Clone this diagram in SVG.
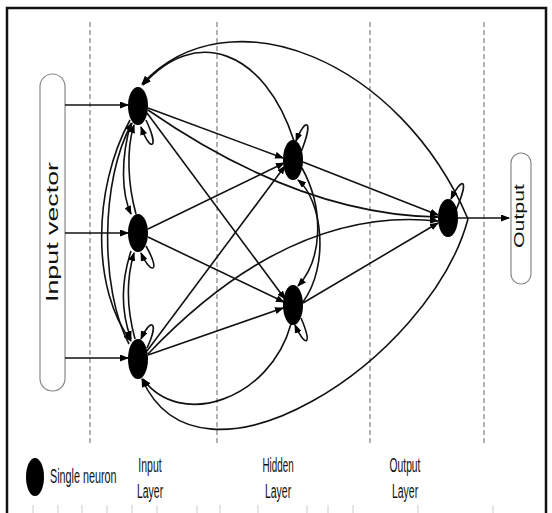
<svg xmlns="http://www.w3.org/2000/svg" width="552" height="513" viewBox="0 0 552 513">
<style>
.frame{fill:none;stroke:#111;stroke-width:2.5}
.dash{stroke:#666;stroke-width:1;stroke-dasharray:5,3}
.pill{fill:#fff;stroke:#888;stroke-width:1.2}
.neuron{fill:#000}
.c{fill:none;stroke:#111;stroke-width:1.6;marker-end:url(#ah)}
.lbl{font-family:"Liberation Sans",Arial,sans-serif;fill:#111}
.tick{stroke:#ccc;stroke-width:1}
</style>
<defs>
<marker id="ah" markerWidth="9" markerHeight="7" refX="8" refY="3.5" orient="auto" markerUnits="userSpaceOnUse">
<path d="M0,0 L9,3.5 L0,7 z" fill="#000"/>
</marker>
</defs>
<rect width="552" height="513" fill="#fff"/>
<path class="frame" d="M7,513 V8 H546 V513"/>
<g id="ticks">
<line class="tick" x1="33" y1="505" x2="33" y2="513"/><line class="tick" x1="58" y1="505" x2="58" y2="513"/><line class="tick" x1="82" y1="505" x2="82" y2="513"/><line class="tick" x1="107" y1="505" x2="107" y2="513"/><line class="tick" x1="132" y1="505" x2="132" y2="513"/><line class="tick" x1="157" y1="505" x2="157" y2="513"/><line class="tick" x1="197" y1="505" x2="197" y2="513"/><line class="tick" x1="220" y1="505" x2="220" y2="513"/><line class="tick" x1="258" y1="505" x2="258" y2="513"/><line class="tick" x1="307" y1="505" x2="307" y2="513"/><line class="tick" x1="328" y1="505" x2="328" y2="513"/><line class="tick" x1="353" y1="505" x2="353" y2="513"/><line class="tick" x1="418" y1="505" x2="418" y2="513"/><line class="tick" x1="493" y1="505" x2="493" y2="513"/>
</g>
<g id="dividers">
<line class="dash" x1="90" y1="22" x2="90" y2="445"/>
<line class="dash" x1="217" y1="22" x2="217" y2="445"/>
<line class="dash" x1="370" y1="22" x2="370" y2="445"/>
<line class="dash" x1="484" y1="22" x2="484" y2="445"/>
</g>
<g id="input-vector">
<rect class="pill" x="40" y="74" width="25" height="317" rx="12.5"/>
<text class="lbl" transform="translate(58,232) rotate(-90)" text-anchor="middle" font-size="17" textLength="140" lengthAdjust="spacingAndGlyphs">Input vector</text>
</g>
<g id="output-box">
<rect class="pill" x="511" y="153" width="20" height="131" rx="10"/>
<text class="lbl" transform="translate(524,216) rotate(-90)" text-anchor="middle" font-size="14" textLength="64" lengthAdjust="spacingAndGlyphs">Output</text>
</g>
<g id="connectors">
<path class="c" d="M65,105 L128,105"/>
<path class="c" d="M65,233 L128,233"/>
<path class="c" d="M65,358 L128,358"/>
<path class="c" d="M148,108 L283,158"/>
<path class="c" d="M147,113 L285,299"/>
<path class="c" d="M148,229 L284,163"/>
<path class="c" d="M148,237 L284,302"/>
<path class="c" d="M147,351 L285,166"/>
<path class="c" d="M148,355 L283,308"/>
<path class="c" d="M148,110 Q300,215 438,217"/>
<path class="c" d="M148,354 Q290,205 438,221"/>
<path class="c" d="M303,162 L438,215"/>
<path class="c" d="M303,303 L438,223"/>
<path class="c" d="M458,218 L509,218"/>
<path class="c" d="M468,219 C400,60 230,-10 142,84"/>
<path class="c" d="M294,141 C265,50 195,25 143,85"/>
<path class="c" d="M468,219 C430,360 200,510 142,379"/>
<path class="c" d="M291,324 C270,400 180,430 143,379"/>
<path class="c" d="M302,168 C325,210 322,260 298,286"/>
<path class="c" d="M303,302 C330,265 322,200 298,180"/>
<path class="c" d="M130,120 C92,190 92,290 131,341"/>
<path class="c" d="M129,344 C100,290 100,180 132,123"/>
<path class="c" d="M131,123 C120,160 122,195 131,214"/>
<path class="c" d="M136,214 C128,185 126,150 134,125"/>
<path class="c" d="M131,251 C120,285 122,315 131,339"/>
<path class="c" d="M135,339 C127,310 126,280 134,253"/>
<path class="c" d="M146,120 C160,150 150,152 141,127"/>
<path class="c" d="M146,246 C162,274 150,274 141,253"/>
<path class="c" d="M147,348 C160,320 150,318 141,339"/>
<path class="c" d="M301,152 C314,120 306,116 296,141"/>
<path class="c" d="M301,318 C314,348 304,346 295,325"/>
<path class="c" d="M456,210 C470,178 462,176 451,199"/>
</g>
<g id="I1"><ellipse class="neuron" cx="138" cy="106" rx="10" ry="19"/></g>
<g id="I2"><ellipse class="neuron" cx="138" cy="233" rx="10" ry="19"/></g>
<g id="I3"><ellipse class="neuron" cx="138" cy="359" rx="10" ry="20"/></g>
<g id="H1"><ellipse class="neuron" cx="293" cy="160" rx="10" ry="20"/></g>
<g id="H2"><ellipse class="neuron" cx="293" cy="305" rx="10" ry="20"/></g>
<g id="O"><ellipse class="neuron" cx="448" cy="218" rx="10" ry="19"/></g>
<g id="legend">
<ellipse class="neuron" cx="35" cy="477" rx="9" ry="19"/>
<text class="lbl" transform="translate(50,483) scale(0.54,1)" font-size="20">Single neuron</text>
</g>
<g id="layer-labels">
<text class="lbl" transform="translate(150,472) scale(0.5,1)" font-size="21" text-anchor="middle">Input</text>
<text class="lbl" transform="translate(150,498) scale(0.5,1)" font-size="21" text-anchor="middle">Layer</text>
<text class="lbl" transform="translate(278,472) scale(0.47,1)" font-size="21" text-anchor="middle">Hidden</text>
<text class="lbl" transform="translate(278,498) scale(0.5,1)" font-size="21" text-anchor="middle">Layer</text>
<text class="lbl" transform="translate(405,472) scale(0.49,1)" font-size="21" text-anchor="middle">Output</text>
<text class="lbl" transform="translate(405,498) scale(0.5,1)" font-size="21" text-anchor="middle">Layer</text>
</g>
</svg>
